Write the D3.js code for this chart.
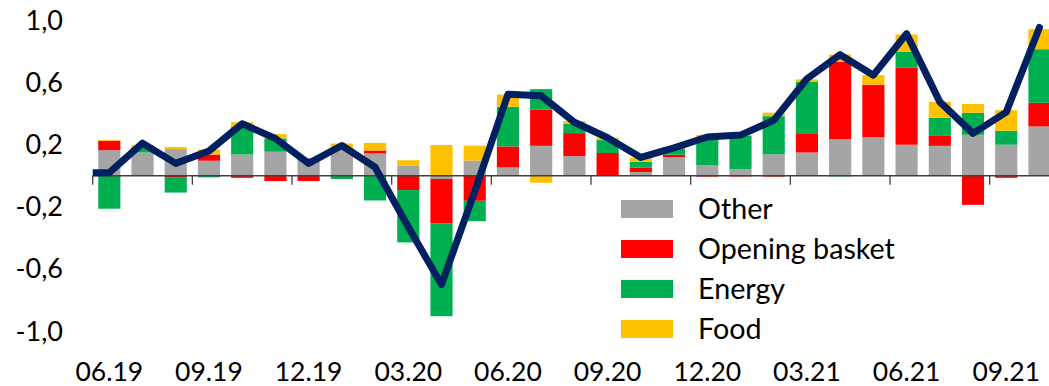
<!DOCTYPE html>
<html>
<head>
<meta charset="utf-8">
<script src="https://cdn.jsdelivr.net/npm/d3@7"></script>
<style>
  html, body { margin: 0; padding: 0; background: #fff; overflow: hidden; }
  svg { display: block; }
  text { font-family: Lato, "Open Sans", sans-serif; fill: #000; }
</style>
</head>
<body>
<svg id="chart" width="1049" height="386"></svg>
<script>
// Monthly categories
const months = ["06.19","07.19","08.19","09.19","10.19","11.19","12.19","01.20","02.20","03.20",
                "04.20","05.20","06.20","07.20","08.20","09.20","10.20","11.20","12.20","01.21",
                "02.21","03.21","04.21","05.21","06.21","07.21","08.21","09.21","10.21"];

// Contributions by component (percentage points)
const other   = [0.165, 0.15, 0.172, 0.097, 0.137, 0.155, 0.115, 0.18, 0.144, 0.064,
                 -0.02, 0.098, 0.054, 0.193, 0.127, 0, 0.024, 0.121, 0.069, 0.044,
                 0.139, 0.15, 0.236, 0.249, 0.2, 0.193, 0.264, 0.2, 0.318];
const opening = [0.06, 0, -0.008, 0.04, -0.013, -0.034, -0.034, 0, 0.019, -0.092,
                 -0.288, -0.161, 0.135, 0.234, 0.148, 0.147, 0.03, 0.015, -0.005, -0.004,
                 -0.005, 0.124, 0.498, 0.337, 0.498, 0.064, -0.187, -0.013, 0.152];
const energy  = [-0.212, 0.035, -0.10, -0.01, 0.178, 0.086, 0, -0.021, -0.159, -0.337,
                 -0.596, -0.131, 0.255, 0.131, 0.06, 0.083, 0.036, 0.04, 0.18, 0.215,
                 0.245, 0.33, -0.004, 0, 0.10, 0.116, 0.142, 0.09, 0.345];
const food    = [0.006, 0.012, 0.013, 0.032, 0.03, 0.028, 0, 0.028, 0.049, 0.036,
                 0.198, 0.096, 0.079, -0.045, 0.017, 0.014, 0.026, 0.01, 0.015, 0,
                 0.022, 0.017, 0.047, 0.062, 0.112, 0.103, 0.056, 0.133, 0.129];

// Headline monthly change
const total   = [0.02, 0.21, 0.08, 0.16, 0.335, 0.24, 0.08, 0.195, 0.055, -0.33,
                 -0.70, -0.10, 0.525, 0.515, 0.345, 0.245, 0.118, 0.18, 0.25, 0.262,
                 0.357, 0.625, 0.78, 0.648, 0.915, 0.476, 0.273, 0.41, 0.955];

const seriesNames = ["Other", "Opening basket", "Energy", "Food"];
const seriesColors = ["#A5A5A5", "#FF0000", "#00B050", "#FFC000"];
const yTicks = [1.0, 0.6, 0.2, -0.2, -0.6, -1.0];
const xLabels = ["06.19","09.19","12.19","03.20","06.20","09.20","12.20","03.21","06.21","09.21"];

const svg = d3.select("#chart");
const left = 92.7, step = 33.22;

const x = d3.scaleBand()
  .domain(months)
  .range([left, left + step * months.length])
  .paddingInner(1 / 3)
  .paddingOuter(1 / 6);

const y = d3.scaleLinear().domain([-1, 1]).range([331.1, 20.5]);

const rows = months.map((m, i) => ({
  month: m,
  "Other": other[i],
  "Opening basket": opening[i],
  "Energy": energy[i],
  "Food": food[i]
}));

const stacked = d3.stack()
  .keys(seriesNames)
  .offset(d3.stackOffsetDiverging)(rows);

// Stacked bars
svg.append("g")
  .selectAll("g")
  .data(stacked)
  .join("g")
  .attr("fill", (d, i) => seriesColors[i])
  .selectAll("rect")
  .data(d => d)
  .join("rect")
  .attr("x", d => x(d.data.month))
  .attr("width", x.bandwidth())
  .attr("y", d => y(Math.max(d[0], d[1])))
  .attr("height", d => Math.abs(y(d[0]) - y(d[1])));

// Category axis at zero with tick marks every third month
const axisColor = "#404040";
const xEnd = x.range()[1];
svg.append("line")
  .attr("x1", left).attr("x2", xEnd)
  .attr("y1", y(0)).attr("y2", y(0))
  .attr("stroke", axisColor).attr("stroke-width", 1.5);

const tickIdx = d3.range(0, months.length + 1, 3);
svg.append("g")
  .selectAll("line")
  .data(tickIdx)
  .join("line")
  .attr("x1", i => left + i * x.step())
  .attr("x2", i => left + i * x.step())
  .attr("y1", y(0))
  .attr("y2", y(0) + 9)
  .attr("stroke", axisColor)
  .attr("stroke-width", 1.3);

// X labels
svg.append("g")
  .selectAll("text")
  .data(xLabels)
  .join("text")
  .attr("x", m => x(m) + x.bandwidth() / 2)
  .attr("y", 380.5)
  .attr("text-anchor", "middle")
  .style("font-size", "26.5px")
  .text(m => m);

// Y labels
const fmt = v => d3.format(".1f")(v).replace(".", ",").replace("−", "-");
svg.append("g")
  .selectAll("text")
  .data(yTicks)
  .join("text")
  .attr("x", 63)
  .attr("y", v => y(v) + 9.5)
  .attr("text-anchor", "end")
  .style("font-size", "27px")
  .text(fmt);

// Headline line, starting from the plot's left edge
svg.append("defs").append("clipPath").attr("id", "plotClip")
  .append("rect").attr("x", left).attr("y", 0).attr("width", 1049).attr("height", 386);

const linePts = [[left, total[0]]].concat(
  months.map((m, i) => [x(m) + x.bandwidth() / 2, total[i]])
);
svg.append("path")
  .datum(linePts)
  .attr("clip-path", "url(#plotClip)")
  .attr("fill", "none")
  .attr("stroke", "#002060")
  .attr("stroke-width", 7)
  .attr("stroke-linejoin", "round")
  .attr("stroke-linecap", "round")
  .attr("d", d3.line().x(d => d[0]).y(d => y(d[1])));

// Legend
const legend = svg.append("g").attr("transform", "translate(621,200)");
const item = legend.selectAll("g")
  .data(seriesNames)
  .join("g")
  .attr("transform", (d, i) => `translate(0,${i * 40})`);
item.append("rect")
  .attr("width", 52).attr("height", 18)
  .attr("fill", (d, i) => seriesColors[i]);
item.append("text")
  .attr("x", 77).attr("y", 18.5)
  .style("font-size", "28.7px")
  .text(d => d);
</script>
</body>
</html>
